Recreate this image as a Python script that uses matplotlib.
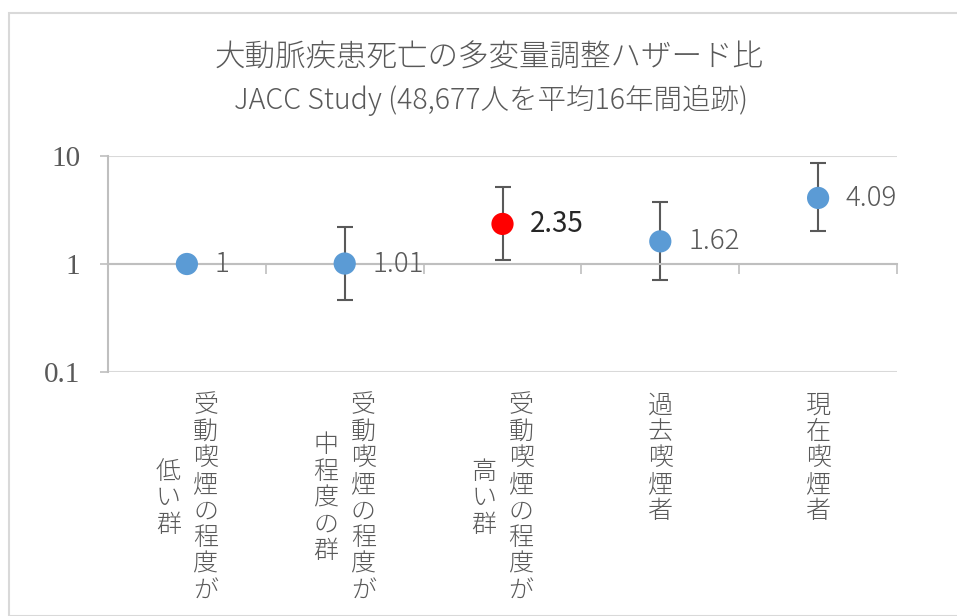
import numpy as np
import matplotlib
matplotlib.use("Agg")
import matplotlib.pyplot as plt
from matplotlib.patches import Rectangle
from matplotlib.ticker import FixedLocator, NullFormatter
from matplotlib.transforms import blended_transform_factory

plt.rcParams['font.family'] = ['Noto Sans CJK JP', 'DejaVu Sans']

# データ
categories = [["受動喫煙の程度が", "低い群"],
              ["受動喫煙の程度が", "中程度の群"],
              ["受動喫煙の程度が", "高い群"],
              ["過去喫煙者"],
              ["現在喫煙者"]]
hr = [1, 1.01, 2.35, 1.62, 4.09]
ci_low = [np.nan, 0.46, 1.09, 0.71, 2.02]
ci_high = [np.nan, 2.2, 5.15, 3.75, 8.6]
labels = ["1", "1.01", "2.35", "1.62", "4.09"]
colors = ["#5B9BD5", "#5B9BD5", "#FF0000", "#5B9BD5", "#5B9BD5"]
yticks = [0.1, 1, 10]
ytick_labels = ["0.1", "1", "10"]

W, H = 957, 616
fig = plt.figure(figsize=(W / 100, H / 100), dpi=100)
fig.patches.append(Rectangle((9 / W, 0), 1, 1 - 13 / H, transform=fig.transFigure,
                             fill=False, edgecolor="#D9D9D9", linewidth=1.5))

ax = fig.add_axes([108 / W, 1 - 372 / H, (897 - 108) / W, (372 - 156) / H])
ax.set_yscale("log")
ax.set_ylim(0.1, 10)
ax.set_xlim(-0.5, len(hr) - 0.5)

x = np.arange(len(hr))
lo = np.array(hr) - np.array(ci_low)
hi = np.array(ci_high) - np.array(hr)
ax.errorbar(x, hr, yerr=[lo, hi], fmt="none", ecolor="#595959",
            elinewidth=1.5, capsize=6, capthick=1.5, zorder=2)
ax.scatter(x, hr, s=16 ** 2, c=colors, zorder=3, linewidths=0)

for i, (v, t) in enumerate(zip(hr, labels)):
    if i == 2:
        col, fw = "#262626", "normal"
    else:
        col, fw = "#595959", "light"
    ax.annotate(t, (i, v), xytext=(20, 0), textcoords="offset points",
                va="center", ha="left", fontsize=20, color=col, fontweight=fw)

# 軸
ax.yaxis.set_major_locator(FixedLocator(yticks))
ax.yaxis.set_minor_locator(FixedLocator([]))
ax.set_yticklabels(ytick_labels, fontfamily="Liberation Serif", fontsize=21, color="#595959")
ax.tick_params(axis="y", length=6, color="#BFBFBF", width=1.2, pad=14)
ax.grid(axis="y", color="#D9D9D9", linewidth=1.5)
ax.set_axisbelow(True)

for s in ["top", "right"]:
    ax.spines[s].set_visible(False)
ax.spines["left"].set_color("#BFBFBF")
ax.spines["left"].set_linewidth(1.5)
ax.spines["bottom"].set_position(("data", 1))
ax.spines["bottom"].set_color("#BFBFBF")
ax.spines["bottom"].set_linewidth(1.5)
ax.xaxis.set_major_locator(FixedLocator(np.arange(-0.5, len(hr))))
ax.xaxis.set_major_formatter(NullFormatter())
ax.tick_params(axis="x", length=7, color="#BFBFBF", width=1.2, direction="out")

# 縦書きのカテゴリラベル
trans = blended_transform_factory(ax.transData, fig.transFigure)
top_px = 392
pitch = 26.5
for i, cols in enumerate(categories):
    nmax = max(len(c) for c in cols)
    center_px = top_px + nmax * pitch / 2
    ncol = len(cols)
    for j, col in enumerate(cols):
        xc = i + ((ncol - 1) / 2 - j) * 0.236
        start = center_px - len(col) * pitch / 2
        for k, ch in enumerate(col):
            yc = start + (k + 0.5) * pitch
            ax.text(xc, 1 - yc / H, ch, transform=trans, ha="center", va="center",
                    fontsize=18, color="#595959", fontweight="light")

fig.text(489 / W, 1 - 58 / H, "大動脈疾患死亡の多変量調整ハザード比",
         ha="center", va="center", fontsize=22, color="#595959", fontweight="light")
fig.text(491 / W, 1 - 100 / H, "JACC Study (48,677人を平均16年間追跡)",
         ha="center", va="center", fontsize=20.5, color="#595959", fontweight="light")

fig.savefig("out.png", dpi=100)
